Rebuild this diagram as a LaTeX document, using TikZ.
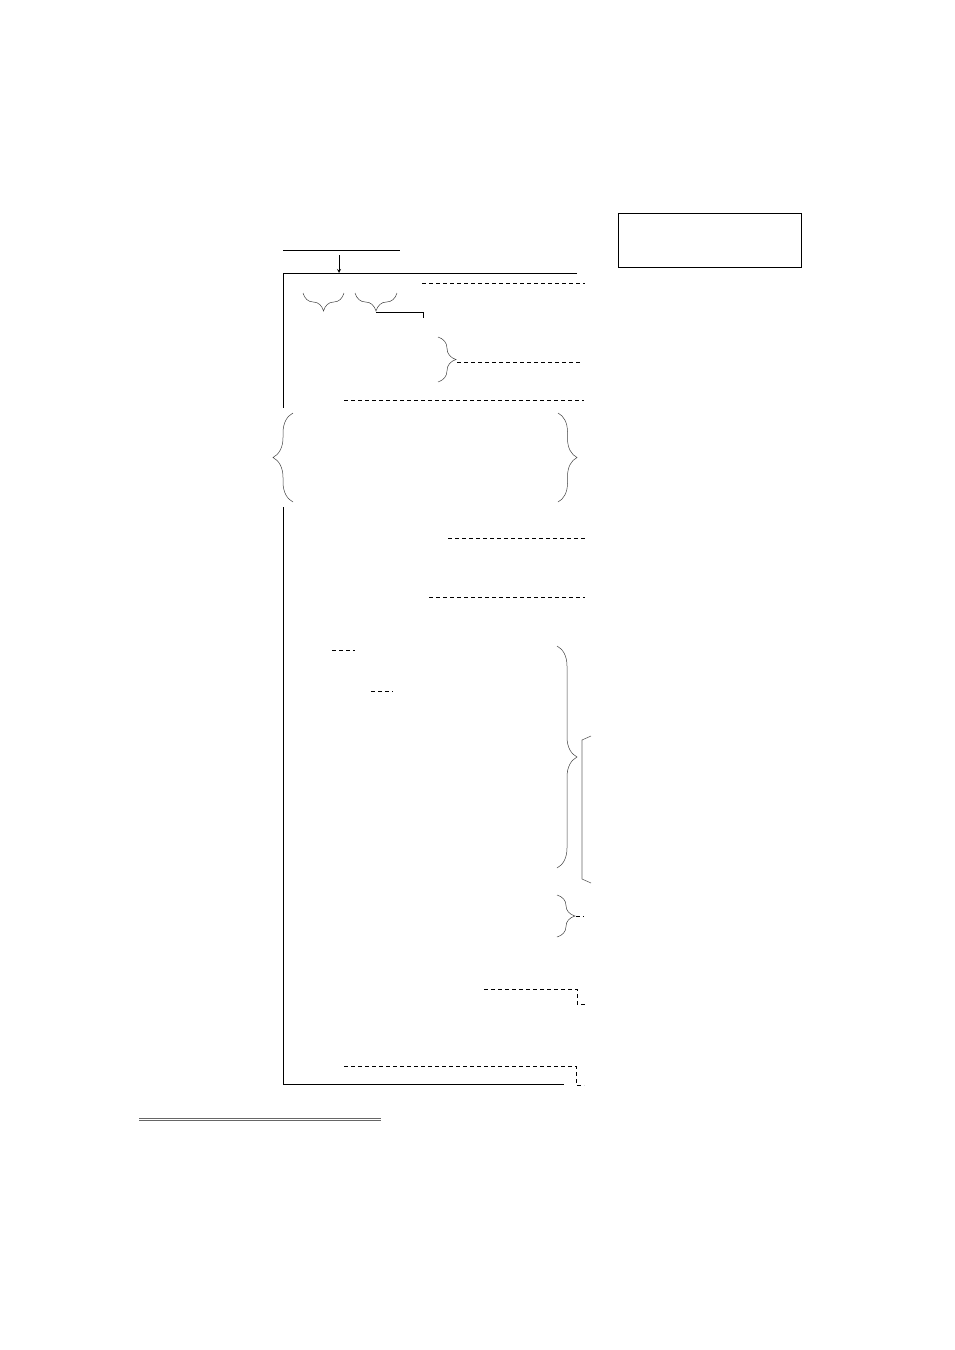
\documentclass[tikz,border=0pt]{standalone}
\usetikzlibrary{decorations.pathreplacing}
\begin{document}
\begin{tikzpicture}[x=1pt,y=-1pt,
        frame/.style={line width=0.8pt},
        leader/.style={line width=0.6pt,dash pattern=on 4pt off 3pt},
        curly/.style={decorate,decoration={brace,amplitude=#1},line width=0.5pt,draw=black!75},
        rule/.style={line width=0.7pt,draw=black!60}]
    \useasboundingbox (0,0) rectangle (954,1350);
    % Box top right
    \draw[frame] (618,213) rectangle (801,267);
    % Head line and arrow
    \coordinate (head) at (339,255);
    \coordinate (top) at (339,273);
    \draw[frame] (283,250) -- (400,250);
    \draw[frame,-stealth] (head) -- (top);
    % Frame
    \draw[frame] (577,273) -- (283,273) -- (283,408);
    \draw[frame] (283,507) -- (283,1084) -- (564,1084);
    % Upper part
    \draw[leader] (422,283) -- (585,283);
    \draw[curly=18pt] (344,293) -- (303,293);
    \draw[curly=18pt] (397,293) -- (355,293) coordinate[pos=0.5] (mid2);
    \coordinate (tip2) at (376,312);
    \coordinate (hook) at (423,312);
    \draw[frame] (tip2) -- (hook) -- ++(0,6);
    \draw[curly=18pt] (438,337) -- (438,382);
    \coordinate (tip3) at (457,362);
    \draw[leader] (tip3) -- (581,362);
    \draw[leader] (344,400) -- (584,400);
    % Middle block
    \draw[curly=20pt] (293,502) -- (293,413);
    \draw[curly=19pt] (558,413) -- (558,502);
    \draw[leader] (448,538) -- (585,538);
    \draw[leader] (429,597) -- (585,597);
    \draw[leader] (332,650) -- (355,650);
    \draw[leader] (371,691) -- (393,691);
    % Lower block
    \draw[curly=20pt] (557,646) -- (557,868);
    \draw[line width=0.6pt,draw=black!60] (591,736) -- (582,740) -- (582,879) -- (591,883);
    \draw[curly=18pt] (557,895) -- (557,937);
    \coordinate (tip5) at (576,916);
    \draw[leader] (tip5) -- (584,916);
    \draw[leader] (484,989) -- (577,989) -- (577,1004) -- (586,1004);
    \draw[leader] (344,1066) -- (576,1066) -- (576,1085) -- (584,1085);
    % Footnote rule
    \draw[rule] (139,1118) -- (381,1118);
    \draw[rule] (139,1120.5) -- (381,1120.5);
\end{tikzpicture}
\end{document}
